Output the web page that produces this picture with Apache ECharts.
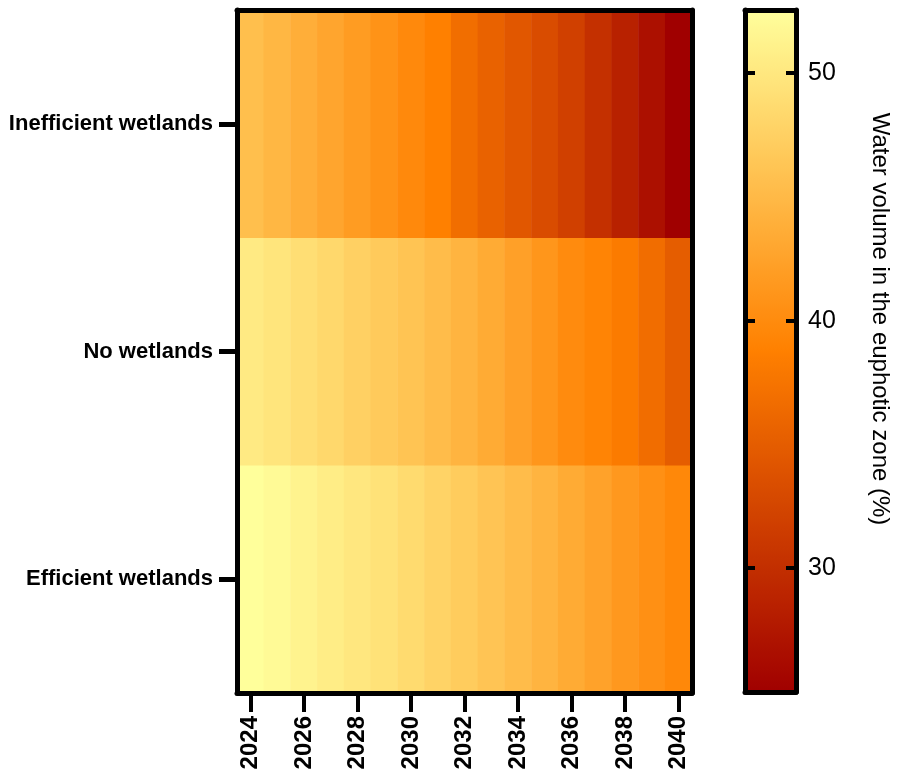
<!DOCTYPE html>
<html>
<head>
<meta charset="utf-8">
<script src="https://cdn.jsdelivr.net/npm/echarts@6/dist/echarts.min.js"></script>
<style>
  html, body { margin: 0; padding: 0; background: #ffffff; }
  #chart { width: 906px; height: 774px; }
</style>
</head>
<body>
<div id="chart"></div>
<script>
// Years along the x axis
const years = ['2024', '2025', '2026', '2027', '2028', '2029', '2030', '2031', '2032',
               '2033', '2034', '2035', '2036', '2037', '2038', '2039', '2040'];

// Scenarios, bottom to top
const scenarios = ['Efficient wetlands', 'No wetlands', 'Inefficient wetlands'];

// Water volume in the euphotic zone (%), one value per year
const efficientWetlands = [52.5, 52.0, 51.3, 50.6, 50.0, 49.4, 48.6, 47.8, 47.0,
                           46.2, 45.3, 44.4, 43.4, 42.5, 41.4, 40.5, 39.6];
const noWetlands = [50.3, 49.7, 49.0, 48.3, 47.5, 46.8, 46.1, 45.3, 44.4,
                    43.4, 42.3, 41.2, 40.0, 39.2, 38.2, 36.7, 35.0];
const inefficientWetlands = [45.6, 44.7, 43.8, 42.8, 41.8, 40.8, 39.8, 38.8, 36.8,
                             35.6, 34.4, 33.2, 31.9, 30.2, 28.5, 26.7, 25.0];

// Colour scale range and ticks
const scaleMin = 25;
const scaleMax = 52.55;
const scaleTicks = [30, 40, 50];

const rows = [efficientWetlands, noWetlands, inefficientWetlands];
const cells = [];
rows.forEach(function (row, yi) {
  row.forEach(function (v, xi) { cells.push([xi, yi, v]); });
});

const FONT = '"Liberation Sans", Arial, sans-serif';
const frameLine = { show: true, onZero: false,
                    lineStyle: { color: '#000', width: 5, cap: 'round' } };

const chart = echarts.init(document.getElementById('chart'), null, { renderer: 'canvas' });

chart.setOption({
  backgroundColor: '#ffffff',
  animation: false,
  grid: [
    { left: 237, top: 10, width: 455, height: 683 },
    { left: 745, top: 10, width: 51, height: 682 }
  ],
  xAxis: [
    {
      gridIndex: 0, type: 'category', data: years, position: 'bottom', z: 10,
      axisLine: frameLine,
      axisTick: { show: true, alignWithLabel: true, interval: 1, length: 19,
                  lineStyle: { color: '#000', width: 4 } },
      axisLabel: { interval: 1, rotate: 90, margin: 23, color: '#000',
                   fontFamily: FONT, fontWeight: 'bold', fontSize: 24 },
      splitLine: { show: false }
    },
    {
      gridIndex: 0, type: 'category', data: years, position: 'top', z: 10,
      axisLine: frameLine, axisTick: { show: false }, axisLabel: { show: false }
    },
    {
      gridIndex: 1, type: 'value', min: 0, max: 1, position: 'bottom', z: 10,
      axisLine: frameLine, axisTick: { show: false }, axisLabel: { show: false },
      splitLine: { show: false }
    },
    {
      gridIndex: 1, type: 'value', min: 0, max: 1, position: 'top', z: 10,
      axisLine: frameLine, axisTick: { show: false }, axisLabel: { show: false },
      splitLine: { show: false }
    }
  ],
  yAxis: [
    {
      gridIndex: 0, type: 'category', data: scenarios, position: 'left', z: 10,
      axisLine: frameLine,
      axisTick: { show: true, alignWithLabel: true, length: 18,
                  lineStyle: { color: '#000', width: 5 } },
      axisLabel: { margin: 24, color: '#000', fontFamily: FONT,
                   fontWeight: 'bold', fontSize: 22 },
      splitLine: { show: false }
    },
    {
      gridIndex: 0, type: 'category', data: scenarios, position: 'right', z: 10,
      axisLine: frameLine, axisTick: { show: false }, axisLabel: { show: false }
    },
    {
      gridIndex: 1, type: 'value', min: scaleMin, max: scaleMax, position: 'left', z: 10,
      axisLine: frameLine,
      axisTick: { show: true, inside: true, length: 10, customValues: scaleTicks,
                  lineStyle: { color: '#000', width: 4 } },
      axisLabel: { show: false },
      splitLine: { show: false }
    },
    {
      gridIndex: 1, type: 'value', min: scaleMin, max: scaleMax, position: 'right', z: 10,
      axisLine: frameLine,
      axisTick: { show: true, inside: true, length: 10, customValues: scaleTicks,
                  lineStyle: { color: '#000', width: 4 } },
      axisLabel: { show: true, customValues: scaleTicks, margin: 12, color: '#000',
                   fontFamily: FONT, fontSize: 25 },
      splitLine: { show: false },
      name: 'Water volume in the euphotic zone (%)',
      nameLocation: 'middle', nameRotate: -90, nameGap: 72,
      nameTextStyle: { color: '#000', fontFamily: FONT, fontSize: 24,
                       padding: [0, 64, 0, 0] }
    }
  ],
  visualMap: {
    type: 'continuous',
    min: scaleMin, max: scaleMax,
    seriesIndex: 0,
    calculable: false, hoverLink: false,
    orient: 'vertical',
    left: 745, top: 10, padding: 0,
    itemWidth: 51, itemHeight: 682,
    text: null, showLabel: false,
    inRange: { color: ['#a00000', '#ff8000', '#ffff9c'] }
  },
  series: [
    {
      type: 'heatmap', xAxisIndex: 0, yAxisIndex: 0, z: 1,
      data: cells,
      itemStyle: { borderWidth: 0 },
      emphasis: { disabled: true }
    }
  ]
});
</script>
</body>
</html>
